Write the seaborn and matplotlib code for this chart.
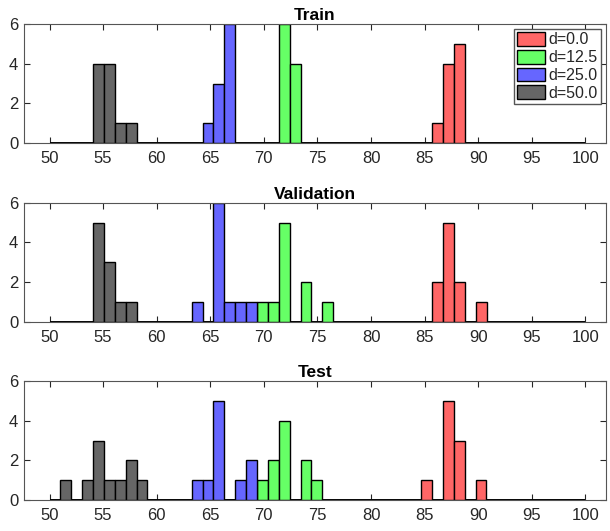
import numpy as np
import pandas as pd
import matplotlib
matplotlib.use("Agg")
import matplotlib.pyplot as plt
import seaborn as sns

# Data: first bin edge + counts per bin, ordered like `labels`
labels = ["d=0.0", "d=12.5", "d=25.0", "d=50.0"]
colors = ["#ff6666", "#66ff66", "#6666ff", "#666666"]
splits = ["Train", "Validation", "Test"]
bin_width = 1.015

train_start = [85.71, 71.39, 64.28, 54.07]
train_counts = [[1, 4, 5], [6, 4], [1, 3, 6], [4, 4, 1, 1]]

val_start = [85.71, 69.37, 63.27, 54.07]
val_counts = [[2, 5, 2, 0, 1], [1, 1, 5, 0, 2, 0, 1], [1, 0, 6, 1, 1, 1], [5, 3, 1, 1]]

test_start = [84.68, 69.37, 63.27, 51.02]
test_counts = [[1, 0, 5, 3, 0, 1], [1, 2, 4, 0, 2, 1], [1, 1, 5, 0, 1, 2],
               [1, 0, 1, 3, 1, 1, 2, 1]]

x_ticks = list(range(50, 101, 5))
y_ticks = [0, 2, 4, 6]
base_range = (50, 100)

sns.set_style("ticks")
plt.rcParams["font.family"] = ["Liberation Sans", "DejaVu Sans"]
plt.rcParams["font.size"] = 12

fig = plt.figure(figsize=(6.1, 5.31), dpi=100)
bottoms = [0.7307, 0.394, 0.0584]
all_starts = [train_start, val_start, test_start]
all_counts = [train_counts, val_counts, test_counts]

for i, split in enumerate(splits):
    ax = fig.add_axes([0.039, bottoms[i], 0.954, 0.224])
    ax.hlines(0, *base_range, color="black", lw=1.4, zorder=1)
    for lab, col, start, counts in zip(labels, colors, all_starts[i], all_counts[i]):
        n = len(counts)
        centers = start + bin_width * (np.arange(n) + 0.5)
        df = pd.DataFrame({"score": centers, "count": counts})
        sns.histplot(data=df, x="score", weights="count", binwidth=bin_width,
                     binrange=(start, start + bin_width * n), color=col, alpha=1,
                     edgecolor="black", linewidth=1, label=lab, ax=ax, zorder=2)
    ax.set_xlim(47.6, 101.9)
    ax.set_ylim(0, 6)
    ax.set_xticks(x_ticks)
    ax.set_yticks(y_ticks)
    ax.set_xlabel("")
    ax.set_ylabel("")
    ax.set_title(split, fontweight="bold", fontsize=12.5, pad=3, color="black")
    ax.tick_params(direction="in", top=True, right=True, length=4, width=0.8,
                   colors="#262626", labelsize=12)
    ax.tick_params(axis="x", pad=6)
    ax.tick_params(axis="y", pad=4)
    for s in ax.spines.values():
        s.set_color("#555555")
        s.set_linewidth(0.8)
    if i == 0:
        ax.legend(loc="upper right", fancybox=False, edgecolor="#555555",
                  framealpha=1, borderaxespad=0.3, labelspacing=0.15,
                  handlelength=1.75, handleheight=0.95, handletextpad=0.2,
                  borderpad=0.2, fontsize=11.5)

fig.savefig("out.png", dpi=100)
